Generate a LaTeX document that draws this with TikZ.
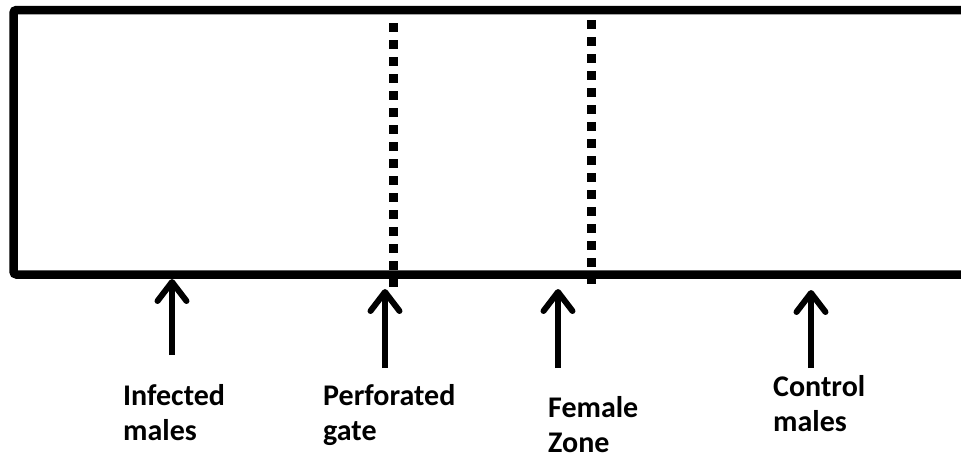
\documentclass[tikz,border=0pt]{standalone}
\usepackage{fontspec}
\setmainfont{Carlito}
\usetikzlibrary{arrows.meta, positioning}
\tikzset{
  wall/.style={line width=8.5pt, rounded corners=3pt},
  gate/.style={line width=9pt, dash pattern=on 9pt off 8pt},
  arrow/.style={-{Straight Barb[length=19pt, width=29pt, round]}, line width=6pt},
  label/.style={inner sep=0pt, anchor=north west, align=left,
                font=\bfseries\fontsize{30}{35}\selectfont},
}
\begin{document}
\begin{tikzpicture}[x=1pt, y=-1pt]
\useasboundingbox (0,0) rectangle (961,459);

% -- cage (open on the right) -------------------------------------------
\draw[wall] (975,10) -- (13.5,10) -- (13.5,274.5) -- (975,274.5);

% -- dotted gates ---------------------------------------------------------
\coordinate (g1top) at (393.5,23);
\coordinate (g1bot) at (393.5,288);
\coordinate (g2top) at (591.5,20);
\coordinate (g2bot) at (591.5,284);
\draw[gate] (g1top) -- (g1bot);
\draw[gate] (g2top) -- (g2bot);

% -- labels -----------------------------------------------------------------
\node[label] (infected) at (123,384) {Infected\\males};
\node[label] (gate) at (323,384) {Perforated\\gate};
\node[label] (female) at (548,396) {Female\\Zone};
\node[label] (control) at (773,375) {Control\\males};

% -- arrows -----------------------------------------------------------------
\coordinate (a1) at (172,355);  \coordinate (t1) at (172,279);
\coordinate (a2) at (385,368);  \coordinate (t2) at (385,289);
\coordinate (a3) at (558,368);  \coordinate (t3) at (558,289);
\coordinate (a4) at (811,368);  \coordinate (t4) at (811,290);
\foreach \i in {1,...,4}
  \draw[arrow] (a\i) -- (t\i);

\end{tikzpicture}
\end{document}
